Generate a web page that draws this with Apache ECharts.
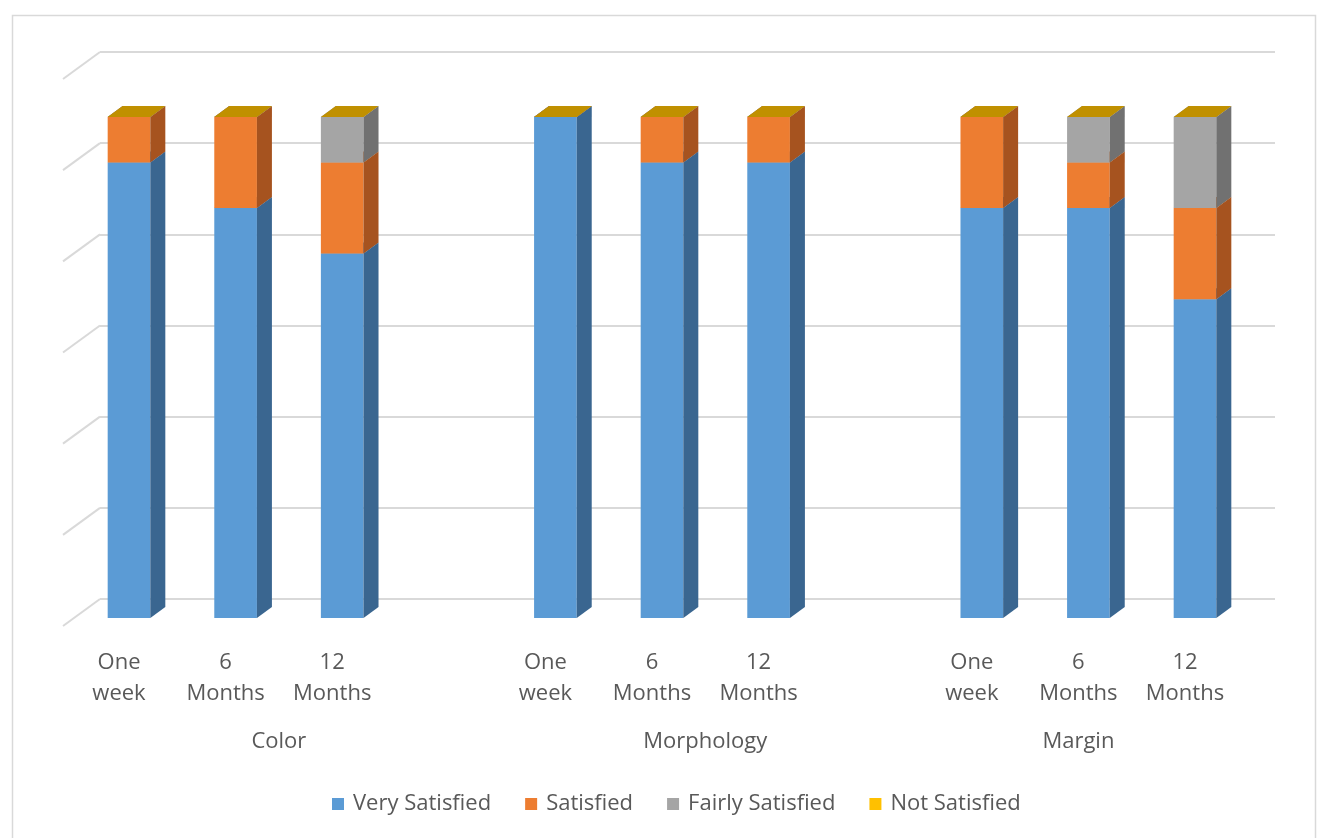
<!DOCTYPE html>
<html>
<head>
<meta charset="utf-8">
<script src="https://cdn.jsdelivr.net/npm/echarts@6/dist/echarts.min.js"></script>
<style>html,body{margin:0;padding:0;background:#fff;}#c{width:1323px;height:838px;}</style>
</head>
<body>
<div id="c"></div>
<script>
// Categories (blank slots separate the groups)
const categories = ['One\nweek', '6\nMonths', '12\nMonths', '', 'One\nweek', '6\nMonths', '12\nMonths', '', 'One\nweek', '6\nMonths', '12\nMonths'];
const groupNames = ['Color', 'Morphology', 'Margin'];
const groupPos = [1.5, 5.5, 9];
const seriesNames = ['Very Satisfied', 'Satisfied', 'Fairly Satisfied', 'Not Satisfied'];
const verySatisfied = [10, 9, 8, null, 11, 10, 10, null, 9, 9, 7];
const satisfied = [1, 2, 2, null, 0, 1, 1, null, 2, 1, 2];
const fairlySatisfied = [0, 0, 1, null, 0, 0, 0, null, 0, 1, 2];
const notSatisfied = [0, 0, 0, null, 0, 0, 0, null, 0, 0, 0];
const yTicks = [0, 2, 4, 6, 8, 10, 12];

const allVals = [verySatisfied, satisfied, fairlySatisfied, notSatisfied];
const frontColors = ['#5B9BD5', '#ED7D31', '#A5A5A5', '#FFC000'];
const sideColors = ['#3A6690', '#A6531F', '#717171', '#B38600'];
const topColors = ['#4A80B3', '#C86826', '#8A8A8A', '#C09000'];
const DX = 15, DY = 11;

function makeRender(s) {
  return function (params, api) {
    const i = api.value(0);
    const v = api.value(1);
    let base = 0;
    for (let k = 0; k < s; k++) base += allVals[k][i];
    const p0 = api.coord([i, base]);
    const p1 = api.coord([i, base + v]);
    const slot = api.size([1, 0])[0];
    const w = slot * 0.4;
    const L = p0[0] - w / 2, R = p0[0] + w / 2;
    const yb = p0[1], yt = p1[1];
    const children = [];
    if (v > 0) {
      children.push({ type: 'rect', shape: { x: L, y: yt, width: R - L, height: yb - yt }, style: { fill: frontColors[s] } });
      children.push({ type: 'polygon', shape: { points: [[R, yb], [R + DX, yb - DY], [R + DX, yt - DY], [R, yt]] }, style: { fill: sideColors[s] } });
    }
    children.push({ type: 'polygon', shape: { points: [[L, yt], [R, yt], [R + DX, yt - DY], [L + DX, yt - DY]] }, style: { fill: topColors[s] } });
    return { type: 'group', children: children };
  };
}

const barSeries = allVals.map(function (arr, s) {
  const data = [];
  arr.forEach(function (v, i) { if (v !== null) data.push([i, v]); });
  return {
    name: seriesNames[s], type: 'custom', xAxisIndex: 0, yAxisIndex: 0,
    itemStyle: { color: frontColors[s] }, renderItem: makeRender(s), data: data, silent: true
  };
});

const chart = echarts.init(document.getElementById('c'), null, { renderer: 'canvas' });
const font = '"Open Sans", "Liberation Sans", sans-serif';
chart.setOption({
  animation: false,
  backgroundColor: '#ffffff',
  graphic: [{ type: 'rect', left: 10, top: 13, shape: { width: 1303, height: 840 }, style: { fill: 'none', stroke: '#d9d9d9', lineWidth: 1.5 }, silent: true }],
  grid: [
    { left: 75.7, right: 74.7, top: 71.4, bottom: 220 },
    { left: 100, right: 48, top: 52, bottom: 239 }
  ],
  legend: {
    data: seriesNames, left: 327, top: 788, icon: 'rect', itemWidth: 12, itemHeight: 12, itemGap: 34,
    textStyle: { fontFamily: font, fontSize: 22, color: '#595959', padding: [0, 0, 0, 4] }
  },
  xAxis: [
    { type: 'category', gridIndex: 0, data: categories, axisLine: { show: false }, axisTick: { show: false },
      axisLabel: { interval: 0, fontFamily: font, fontSize: 22, lineHeight: 31, color: '#595959', margin: 29, padding: [0, 20, 0, 0] } },
    { type: 'value', gridIndex: 0, min: -0.5, max: 10.5, show: false },
    { type: 'value', gridIndex: 1, min: 0, max: 1, show: false }
  ],
  yAxis: [
    { type: 'value', gridIndex: 0, min: 0, max: 12, show: false },
    { type: 'value', gridIndex: 1, min: 0, max: 12, interval: 2, axisLabel: { show: false }, axisLine: { show: false }, axisTick: { show: false },
      splitLine: { lineStyle: { color: '#d9d9d9', width: 2 } } }
  ],
  series: [
    { type: 'custom', xAxisIndex: 2, yAxisIndex: 1, silent: true, data: yTicks.map(function (t) { return [0, t]; }),
      renderItem: function (params, api) {
        const p = api.coord([0, api.value(1)]);
        return { type: 'line', shape: { x1: p[0], y1: p[1], x2: p[0] - 37, y2: p[1] + 27 }, style: { stroke: '#d9d9d9', lineWidth: 2 } };
      } },
    { type: 'custom', xAxisIndex: 1, yAxisIndex: 0, silent: true, data: groupPos.map(function (g, k) { return [g, 0, k]; }),
      renderItem: function (params, api) {
        const p = api.coord([api.value(0), 0]);
        return { type: 'text', style: { text: groupNames[params.dataIndex], x: p[0] - 10, y: p[1] + 124, align: 'center', verticalAlign: 'middle',
          font: '22px ' + font, fill: '#595959' } };
      } }
  ].concat(barSeries)
});
</script>
</body>
</html>
